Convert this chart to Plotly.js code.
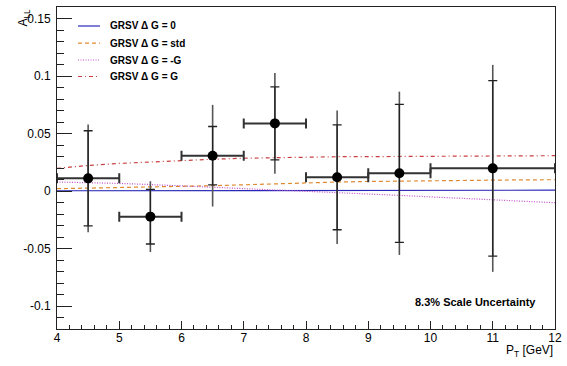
<!DOCTYPE html>
<html>
<head>
<meta charset="utf-8">
<script src="https://cdn.plot.ly/plotly-3.0.1.min.js"></script>
<style>html,body{margin:0;padding:0;background:#fff;}#chart{width:567px;height:366px;}</style>
</head>
<body>
<div id="chart"></div>
<script>
// ---- data ----
var ptBins = [4.5, 5.5, 6.5, 7.5, 8.5, 9.5, 11];
var ptHalfWidth = [0.5, 0.5, 0.5, 0.5, 0.5, 0.5, 1.0];
var allValues = [0.011, -0.0223, 0.0307, 0.0588, 0.0119, 0.0154, 0.0197];
var statErr = [0.0414, 0.0238, 0.0254, 0.0317, 0.0456, 0.060, 0.0763];
var totalErr = [0.0468, 0.0308, 0.0442, 0.0437, 0.058, 0.071, 0.090];

var curveX = [4, 4.5, 5, 5.5, 6, 6.5, 7, 7.5, 8, 8.5, 9, 9.5, 10, 10.5, 11, 11.5, 12];
var grsvZero = [0.0002, 0.0002, 0.0002, 0.0003, 0.0003, 0.0003, 0.0004, 0.0004, 0.0004, 0.0005, 0.0005, 0.0005, 0.0006, 0.0006, 0.0006, 0.0007, 0.0007];
var grsvStd = [0.0020, 0.0024, 0.0028, 0.0033, 0.0039, 0.0046, 0.0054, 0.0063, 0.0072, 0.0078, 0.0083, 0.0087, 0.0090, 0.0093, 0.0095, 0.0097, 0.0098];
var grsvMinusG = [0.0078, 0.0073, 0.0066, 0.0056, 0.0045, 0.0034, 0.0022, 0.0011, 0.0000, -0.0012, -0.0025, -0.0038, -0.0051, -0.0064, -0.0077, -0.0090, -0.0102];
var grsvG = [0.0197, 0.0222, 0.0240, 0.0254, 0.0265, 0.0276, 0.0285, 0.0291, 0.0296, 0.0298, 0.0299, 0.0300, 0.0302, 0.0303, 0.0305, 0.0306, 0.0307];

var seriesNames = ['GRSV \u0394 G = 0', 'GRSV \u0394 G = std', 'GRSV \u0394 G = -G', 'GRSV \u0394 G = G'];
var yTickVals = [-0.1, -0.05, 0, 0.05, 0.1, 0.15];
var yTickText = ['-0.1', '-0.05', '0', '0.05', '0.1', '0.15'];
var xTickVals = [4, 5, 6, 7, 8, 9, 10, 11, 12];
var xTickText = ['4', '5', '6', '7', '8', '9', '10', '11', '12'];

// ---- styles ----
var FONT = 'Liberation Sans, Arial, Helvetica, sans-serif';
var lineStyles = [
  {color: '#2828b8', width: 1.2, dash: 'solid'},
  {color: '#e08a30', width: 1.2, dash: '4px,3px'},
  {color: '#c050c8', width: 1.2, dash: '1px,1.5px'},
  {color: '#c84040', width: 1.2, dash: '4px,3px,1px,3px'}
];
var seriesY = [grsvZero, grsvStd, grsvMinusG, grsvG];

var traces = [];
for (var i = 0; i < seriesY.length; i++) {
  traces.push({x: curveX, y: seriesY[i], mode: 'lines', name: seriesNames[i], showlegend: false,
               line: lineStyles[i]});
}
// total uncertainty (no caps)
traces.push({x: ptBins, y: allValues, mode: 'markers', showlegend: false, hoverinfo: 'skip',
   marker: {size: 1, color: 'rgba(0,0,0,0)'},
   error_y: {type: 'data', array: totalErr, visible: true, color: '#555555', thickness: 1.6, width: 0}});
// statistical uncertainty with caps + bin widths
traces.push({x: ptBins, y: allValues, mode: 'markers', showlegend: false,
   marker: {size: 10, color: '#000000'},
   error_y: {type: 'data', array: statErr, visible: true, color: '#222222', thickness: 1.3, width: 4.5},
   error_x: {type: 'data', array: ptHalfWidth, visible: true, color: '#333333', thickness: 2, width: 5}});

// legend (drawn as key lines + labels in paper coordinates)
var legendRowsY = [0.941, 0.8876, 0.8354, 0.7842];
var shapes = [];
var annotations = [];
for (var k = 0; k < seriesNames.length; k++) {
  shapes.push({type: 'line', xref: 'paper', yref: 'paper', x0: 0.0422, x1: 0.0863,
               y0: legendRowsY[k], y1: legendRowsY[k], line: lineStyles[k]});
  annotations.push({text: '<b>' + seriesNames[k] + '</b>', xref: 'paper', yref: 'paper',
               x: 0.1024, y: legendRowsY[k], xanchor: 'left', yanchor: 'middle', showarrow: false,
               font: {family: FONT, size: 10, color: '#000'}});
}
annotations.push(
  {text: '<b>8.3% Scale Uncertainty</b>', xref: 'paper', yref: 'paper', x: 0.8398, y: 0.0848,
   xanchor: 'center', yanchor: 'middle', showarrow: false, font: {family: FONT, size: 11, color: '#000'}},
  {text: 'P<sub>T</sub> [GeV]', xref: 'paper', yref: 'paper', x: 1.0, y: -0.036,
   xanchor: 'right', yanchor: 'top', showarrow: false, font: {family: FONT, size: 12, color: '#000'}},
  {text: 'A<sub>LL</sub>', xref: 'paper', yref: 'paper', x: -0.0663, y: 0.967, textangle: -90,
   xanchor: 'center', yanchor: 'middle', showarrow: false, font: {family: FONT, size: 12, color: '#000'}}
);

var layout = {
  width: 567, height: 366,
  margin: {l: 57, r: 12, t: 7, b: 37},
  paper_bgcolor: '#ffffff', plot_bgcolor: '#ffffff',
  font: {family: FONT, size: 12, color: '#000'},
  showlegend: false,
  xaxis: {range: [4, 12], showgrid: false, zeroline: false, showline: true, mirror: true,
          linecolor: '#222', linewidth: 1, ticks: 'inside', ticklen: 8, tickwidth: 1, tickcolor: '#222',
          tickvals: xTickVals, ticktext: xTickText, ticklabelstandoff: -2,
          tickfont: {family: FONT, size: 12, color: '#000'},
          minor: {ticks: 'inside', ticklen: 4, dtick: 0.2, tickcolor: '#222', showgrid: false}},
  yaxis: {range: [-0.12, 0.16], showgrid: false, zeroline: false, showline: true, mirror: true,
          linecolor: '#222', linewidth: 1, ticks: 'inside', ticklen: 15, tickwidth: 1, tickcolor: '#222',
          tickvals: yTickVals, ticktext: yTickText, ticklabelstandoff: 3,
          tickfont: {family: FONT, size: 12, color: '#000'},
          minor: {ticks: 'inside', ticklen: 7, dtick: 0.01, tick0: 0, tickcolor: '#222', showgrid: false}},
  shapes: shapes,
  annotations: annotations
};

Plotly.newPlot('chart', traces, layout, {staticPlot: true, displayModeBar: false});
</script>
</body>
</html>
